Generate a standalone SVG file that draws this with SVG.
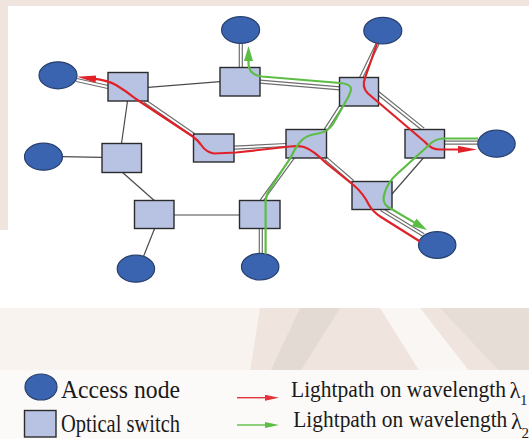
<svg xmlns="http://www.w3.org/2000/svg" width="529" height="439" viewBox="0 0 529 439">
  <defs>
    <style>
      .acc{fill:#3b64b0;stroke:#27406e;stroke-width:1.2}
      .sw{fill:#b8c3e3;stroke:#2b2b2b;stroke-width:1.4}
      .single{stroke:#4a4a4a;stroke-width:1.2;fill:none}
      .dblo{stroke:#6e6e6e;stroke-width:4.2;fill:none}
      .dbli{stroke:#ffffff;stroke-width:1.8;fill:none}
      .red{stroke:#e02228;stroke-width:2.2;fill:none;stroke-linejoin:round}
      .green{stroke:#5cbd44;stroke-width:2.2;fill:none;stroke-linejoin:round}
      .lg{font-family:"Liberation Serif","Times New Roman",serif;font-size:25px;fill:#1a1a1a}
      .lp{font-family:"Liberation Serif","Times New Roman",serif;font-size:23px;fill:#1a1a1a}
      .sub{font-size:15px}
    </style>
    <marker id="arrR" markerUnits="userSpaceOnUse" markerWidth="22" markerHeight="10" refX="3" refY="4" orient="auto">
      <path d="M0,0.4 L19,4 L0,7.6 Z" fill="#e02228"/>
    </marker>
    <marker id="arrG" markerUnits="userSpaceOnUse" markerWidth="18" markerHeight="10" refX="2" refY="4.5" orient="auto">
      <path d="M0,0 L15,4.5 L0,9 Z" fill="#5cbd44"/>
    </marker>
    <marker id="arrRs" markerUnits="userSpaceOnUse" markerWidth="16" markerHeight="8" refX="1" refY="3" orient="auto">
      <path d="M0,0 L14,3 L0,6 Z" fill="#e2343c"/>
    </marker>
    <marker id="arrGs" markerUnits="userSpaceOnUse" markerWidth="16" markerHeight="8" refX="1" refY="3" orient="auto">
      <path d="M0,0 L14,3 L0,6 Z" fill="#5cbd44"/>
    </marker>
  </defs>

  <!-- background watermark -->
  <g id="background">
    <rect x="0" y="0" width="529" height="439" fill="#efe5de"/>
    <path d="M0,308 L260,308 L250,372 L0,372 Z" fill="#f8f3ef"/>
    <path d="M300,308 L340,308 L300,372 L270,372 Z" fill="#e3dad4"/>
    <path d="M380,308 L420,308 L470,372 L420,372 Z" fill="#f9f6f3"/>
    <path d="M440,308 L529,308 L529,372 L500,372 Z" fill="#e6ddd7"/>
    <rect x="8" y="6" width="521" height="302" fill="#ffffff"/>
    <rect x="0" y="230" width="8" height="78" fill="#ffffff"/>
    <rect x="0" y="370" width="529" height="69" fill="#fcfaf8"/>
  </g>

  <g id="connectors">
    <!-- single links -->
    <line class="single" x1="148" y1="87.3" x2="220" y2="81.7"/>
    <line class="single" x1="127.5" y1="101" x2="121.5" y2="143.5"/>
    <line class="single" x1="62" y1="156.7" x2="102" y2="157.3"/>
    <line class="single" x1="122" y1="172" x2="154.5" y2="200.7"/>
    <line class="single" x1="174" y1="215" x2="239.5" y2="215"/>
    <line class="single" x1="154.5" y1="228.7" x2="143.4" y2="256.7"/>
    <line class="single" x1="423.3" y1="158" x2="392" y2="194"/>
    <!-- double links (fibres carrying lightpaths) -->
    <g id="double-links">
      <path class="dblo" d="M76.5,80 L108,87 M240.8,43 L240.8,68 M260,81.7 L340,88.3 M144.7,101 L194,135 M234,147.7 L286,145 M341,106 L325.6,130 M361,78 L377.7,43.3 M378,93 L423.3,129.3 M444.5,142.7 L478.5,142.7 M325.6,158.3 L352.7,181.7 M381.2,209.3 L423.5,235 M293.5,156.7 L261.5,200.7 M260.8,228.7 L260.8,254"/>
      <path class="dbli" d="M76.5,80 L108,87 M240.8,43 L240.8,68 M260,81.7 L340,88.3 M144.7,101 L194,135 M234,147.7 L286,145 M341,106 L325.6,130 M361,78 L377.7,43.3 M378,93 L423.3,129.3 M444.5,142.7 L478.5,142.7 M325.6,158.3 L352.7,181.7 M381.2,209.3 L423.5,235 M293.5,156.7 L261.5,200.7 M260.8,228.7 L260.8,254"/>
    </g>
  </g>

  <!-- optical switches -->
  <g id="S1"><rect class="sw" x="108" y="72.5" width="40" height="28.5"/></g>
  <g id="S2"><rect class="sw" x="220" y="67.5" width="40" height="28.5"/></g>
  <g id="S3"><rect class="sw" x="339.5" y="77.5" width="39" height="28.5"/></g>
  <g id="S4"><rect class="sw" x="193.5" y="134" width="40.5" height="28"/></g>
  <g id="S5"><rect class="sw" x="286" y="129.5" width="40.5" height="28.5"/></g>
  <g id="S6"><rect class="sw" x="405" y="129.5" width="39.5" height="28.5"/></g>
  <g id="S7"><rect class="sw" x="102" y="143.5" width="39.5" height="29"/></g>
  <g id="S8"><rect class="sw" x="352" y="181.5" width="40" height="28"/></g>
  <g id="S9"><rect class="sw" x="134.5" y="200.5" width="39.5" height="28"/></g>
  <g id="S10"><rect class="sw" x="239.5" y="200.5" width="40.5" height="28"/></g>

  <!-- access nodes -->
  <g id="A1"><ellipse class="acc" cx="240.6" cy="30" rx="19" ry="13.3"/></g>
  <g id="A2"><ellipse class="acc" cx="382.8" cy="30.7" rx="19" ry="13.3"/></g>
  <g id="A3"><ellipse class="acc" cx="58" cy="75.3" rx="19" ry="13.5"/></g>
  <g id="A4"><ellipse class="acc" cx="43.5" cy="156.7" rx="19" ry="13.5"/></g>
  <g id="A5"><ellipse class="acc" cx="496.5" cy="143.7" rx="18.7" ry="13.5"/></g>
  <g id="A6"><ellipse class="acc" cx="437.2" cy="245" rx="18.7" ry="13.3"/></g>
  <g id="A7"><ellipse class="acc" cx="135.9" cy="268.7" rx="18.7" ry="13.5"/></g>
  <g id="A8"><ellipse class="acc" cx="260.2" cy="266.7" rx="18.7" ry="13.3"/></g>

  <!-- lightpaths -->
  <g id="lightpaths">
    <path class="red" marker-end="url(#arrR)" d="M377,43.5 L365,78 Q361.5,87 368,93.5 L425,142 Q431,149.5 440,149.5 L461,149.5"/>
    <path class="red" marker-end="url(#arrR)" d="M420,241.5 L381,217 Q373,212 369,205 Q363,193 354,185.5 L326,163 Q313,150 304,147 Q299,145.7 290,146.5 L236,152.5 L214,153.5 Q206,152 202,146 Q198,140 192,136 L136,99 Q126,91 116,85 Q108,80.5 93,78.7"/>
    <path class="green" marker-end="url(#arrG)" d="M265.6,254 L265.6,201 Q266,195 270,189 L291,157 Q296,146 302,140 Q307,135 318,133.5 Q328,132 333,124 L346,101 Q351,93 351,88 Q350,84 340,83 L262,76.5 Q249,75 248.5,64 L248.5,59"/>
    <path class="green" marker-end="url(#arrG)" d="M478,138.5 L443,138.5 Q434,139 428,146 L397,174 Q388,182 385,192 Q381,202 388,207 L415.8,223.4"/>
  </g>

  <!-- legend -->
  <g id="legend">
    <g id="legend-access">
      <ellipse class="acc" cx="41" cy="387" rx="16" ry="13"/>
      <text class="lg" x="61" y="397.7" textLength="119" lengthAdjust="spacingAndGlyphs">Access node</text>
    </g>
    <g id="legend-switch">
      <rect class="sw" x="24.5" y="410.5" width="31.5" height="26.5"/>
      <text class="lg" x="61" y="431.7" textLength="119" lengthAdjust="spacingAndGlyphs">Optical switch</text>
    </g>
    <g id="legend-red">
      <line x1="237" y1="397.7" x2="266" y2="397.7" stroke="#e2343c" stroke-width="1.4" marker-end="url(#arrRs)"/>
      <text class="lp" x="291" y="396.7"><tspan textLength="215" lengthAdjust="spacingAndGlyphs">Lightpath on wavelength</tspan><tspan x="509.5" y="398">λ</tspan><tspan class="sub" x="520" y="405">1</tspan></text>
    </g>
    <g id="legend-green">
      <line x1="237" y1="425" x2="266" y2="425" stroke="#5cbd44" stroke-width="1.4" marker-end="url(#arrGs)"/>
      <text class="lp" x="293.3" y="426.7"><tspan textLength="214" lengthAdjust="spacingAndGlyphs">Lightpath on wavelength</tspan><tspan x="511" y="429">λ</tspan><tspan class="sub" x="521.5" y="437.5">2</tspan></text>
    </g>
  </g>
</svg>
